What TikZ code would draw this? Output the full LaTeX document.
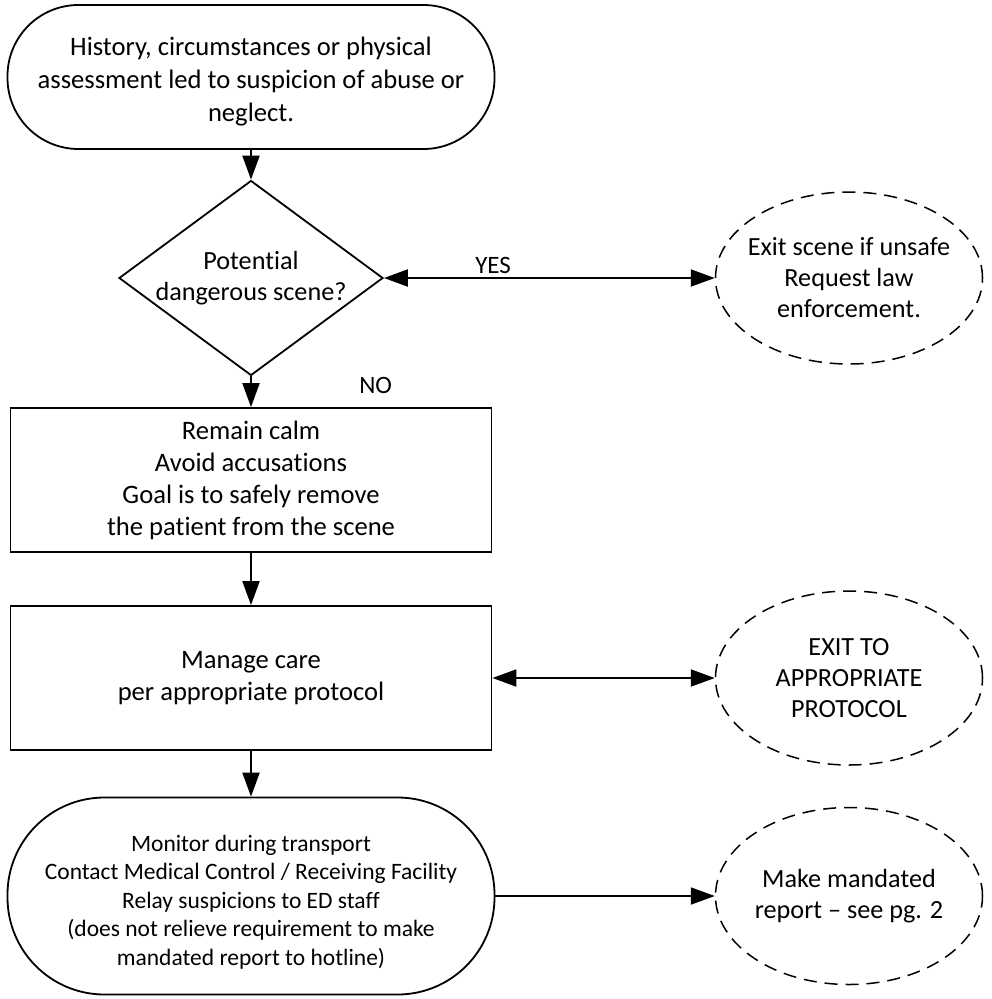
\documentclass[tikz,border=0pt]{standalone}
\usepackage{fontspec}
\setmainfont{Carlito}[Ligatures=NoCommon]
\usetikzlibrary{arrows.meta,positioning,shapes.geometric}

\begin{document}
\begin{tikzpicture}[x=1pt, y=1pt,
    term/.style={rectangle, draw, line width=1.8pt, minimum width=487pt, inner sep=0pt},
    block/.style={rectangle, draw, line width=1.8pt, minimum width=481pt, minimum height=144pt,
        inner sep=0pt, align=center, font=\fontsize{26.6}{32}\selectfont},
    decision/.style={diamond, draw, line width=1.8pt, minimum width=264pt, minimum height=195pt, inner sep=0pt},
    exitnode/.style={ellipse, draw, dash pattern=on 13pt off 8pt, line width=1.5pt,
        minimum width=267pt, minimum height=174pt, inner sep=0pt},
    inside/.style={align=center, font=\fontsize{26.2}{31}\selectfont},
    line/.style={draw, line width=2pt, -{Triangle[length=24pt,width=17pt]}},
    both/.style={line, {Triangle[length=24pt,width=17pt]}-{Triangle[length=24pt,width=17pt]}}
    ]
    \useasboundingbox (0,0) rectangle (991,-999);

    % Nodes
    \node [term, minimum height=144pt, rounded corners=71pt,
        label={[inside, font=\fontsize{26.6}{33}\selectfont, yshift=-5pt]center:{History, circumstances or physical\\assessment led to suspicion of abuse or\\neglect.}}] (suspicion) at (251,-77) {};
    \node [decision, below of=suspicion, node distance=201pt,
        label={[inside]center:{Potential\\dangerous scene?}}] (danger) {};
    \node [block, below of=danger, node distance=202pt] (calm)
        {Remain calm\\Avoid accusations\\Goal is to safely remove\\the patient from the scene};
    \node [block, below of=calm, node distance=198pt] (care) {Manage care\\per appropriate protocol};
    \node [term, below of=care, node distance=218pt, minimum height=197pt, rounded corners=97pt,
        label={[inside, font=\fontsize{23.5}{28.5}\selectfont, yshift=-6pt]center:{Monitor during transport\\Contact Medical Control / Receiving Facility\\Relay suspicions to ED staff\\(does not relieve requirement to make\\mandated report to hotline)}}] (transport) {};
    \node [exitnode, right of=danger, node distance=598pt, minimum height=172pt,
        label={[inside]center:{Exit scene if unsafe\\Request law\\enforcement.}}] (unsafe) {};
    \node [exitnode, right of=care, node distance=598pt,
        label={[inside]center:{EXIT TO\\APPROPRIATE\\PROTOCOL}}] (exitproto) {};
    \node [exitnode, right of=transport, node distance=598pt, minimum height=177pt,
        label={[inside]center:{Make mandated\\report -- see pg. 2}}] (report) {};

    % Paths
    \draw[line] (suspicion) -- (danger);
    \draw[both] (danger) -- node[above, pos=0.33, font=\fontsize{25}{30}\selectfont] (yes) {YES} (unsafe);
    \draw[line] (danger) -- node[right=104pt, pos=0.3, font=\fontsize{25}{30}\selectfont] (no) {NO} (calm);
    \draw[line] (calm) -- (care);
    \draw[both] (care) -- (exitproto);
    \draw[line] (care) -- (transport);
    \draw[line] (transport) -- (report);
\end{tikzpicture}
\end{document}
